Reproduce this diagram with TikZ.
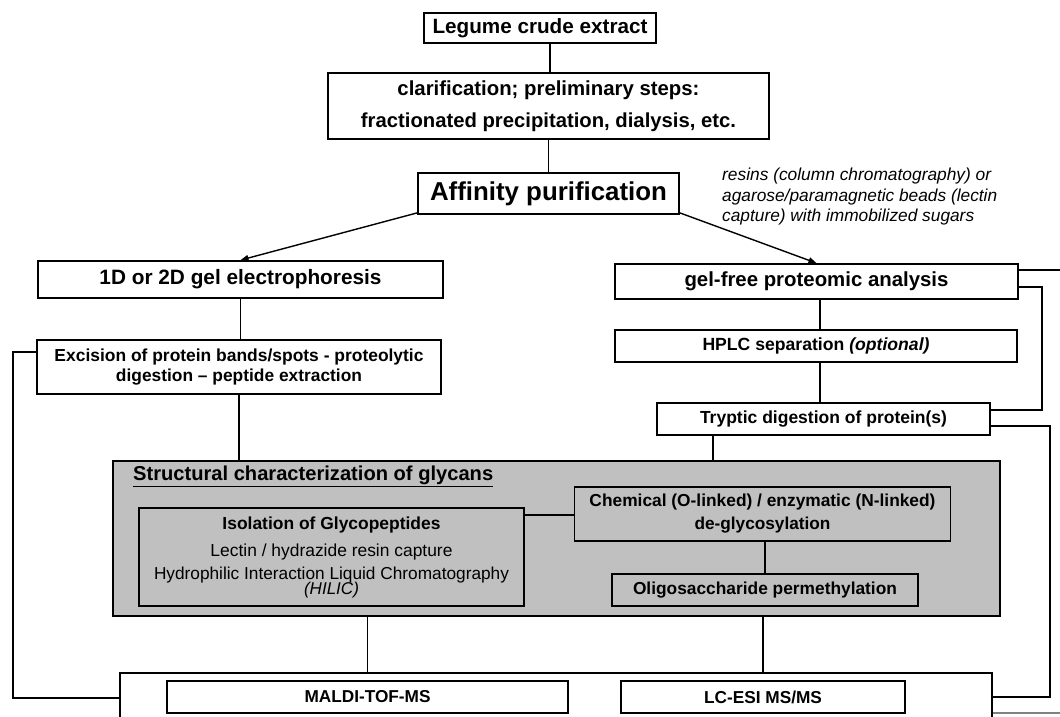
\documentclass[tikz,border=0pt]{standalone}
\usepackage{fontspec}
\setmainfont{Liberation Sans}
\usepackage{graphicx}
\usetikzlibrary{arrows.meta}
\definecolor{panel}{RGB}{192,192,192}
\newcommand\fw[2]{\resizebox{#1pt}{!}{#2}}
\newcommand\tightlines{\lineskiplimit=-\maxdimen\relax}
\begin{document}
\begin{tikzpicture}[x=1pt,y=-1pt,
  box/.style={draw=black, line width=1.8pt, fill=white, inner sep=0pt, align=center},
  conn/.style={line width=1.4pt, draw=black},
  arr/.style={conn, -{Triangle[length=8pt,width=6pt]}},
  bt/.style={font=\bfseries\fontsize{17}{20}\selectfont}]
\useasboundingbox[fill=white] (0,0) rectangle (1060,716);

\node[box, minimum width=232pt, minimum height=30pt, font=\bfseries\fontsize{20}{24}\selectfont] (leg) at (540,28) {\fw{215}{Legume crude extract}};
\node[box, minimum width=441pt, minimum height=66pt, font=\bfseries\fontsize{18}{32}\selectfont] (clar) at (548.5,106) {\fw{302}{clarification; preliminary steps:}\\\fw{375}{fractionated precipitation, dialysis, etc.}};
\node[box, minimum width=261pt, minimum height=41pt, font=\bfseries\fontsize{26}{30}\selectfont] (aff) at (548.5,193.5) {\fw{237}{Affinity purification}};
\node[anchor=west, align=left, inner sep=0pt, font=\itshape\fontsize{17}{20.5}\selectfont] (note) at (722,197) {\fw{269}{resins (column chromatography) or}\\\fw{275}{agarose/paramagnetic beads (lectin}\\\fw{252}{capture) with immobilized sugars}};

\node[box, bt, minimum width=405pt, minimum height=37pt] (g1) at (240.5,279.5) {\fw{282}{1D or 2D gel electrophoresis}};
\node[box, bt, minimum width=403pt, minimum height=35pt] (g2) at (816.5,281.5) {\fw{264}{gel-free proteomic analysis}};
\node[box, bt, minimum width=404pt, minimum height=54pt] (exc) at (239,367) {\fw{369}{Excision of protein bands/spots - proteolytic}\\\fw{246}{digestion – peptide extraction}};
\node[box, bt, minimum width=402pt, minimum height=32pt] (hplc) at (816,346) {\fw{227}{HPLC separation \textit{(optional)}}};
\node[box, bt, minimum width=333pt, minimum height=32pt] (tryp) at (823.5,419) {\fw{247}{Tryptic digestion of protein(s)}};

\node[box, fill=panel, minimum width=887pt, minimum height=155pt] (gly) at (556.5,538.5) {};
\node[anchor=west, inner sep=0pt, font=\bfseries\fontsize{18}{22}\selectfont] (title) at (133,476) {\fw{360}{\underline{Structural characterization of glycans}}};
\node[box, fill=panel, minimum width=385pt, minimum height=98pt, font=\fontsize{17}{0}\selectfont\tightlines] (iso) at (331.5,557) {\fw{218}{\bfseries Isolation of Glycopeptides}\\[27pt]\fw{242}{Lectin / hydrazide resin capture}\\[23pt]\fw{355}{Hydrophilic Interaction Liquid Chromatography}\\[15pt]\fw{55}{\itshape (HILIC)}};
\node[box, fill=panel, minimum width=376pt, minimum height=54pt, font=\bfseries\fontsize{17}{23}\selectfont] (chem) at (762.5,514) {\fw{346}{Chemical (O-linked) / enzymatic (N-linked)}\\\fw{136}{de-glycosylation}};
\node[box, bt, fill=panel, minimum width=306pt, minimum height=32pt] (oligo) at (765,590) {\fw{264}{Oligosaccharide permethylation}};

\node[box, minimum width=872pt, minimum height=90pt] (ms) at (556,718) {};
\node[box, bt, minimum width=401pt, minimum height=32pt] (maldi) at (367.5,697) {\fw{126}{MALDI-TOF-MS}};
\node[box, bt, minimum width=284pt, minimum height=32pt] (lcesi) at (763,697) {\fw{118}{LC-ESI MS/MS}};

% connectors
\draw[conn] ([xshift=10pt]leg.south) -- ([xshift=10pt]leg.south |- clar.north);
\draw[conn] (clar.south) -- (aff.north);
\draw[arr] ([yshift=2pt]aff.south west) -- (g1.north);
\draw[arr] ([yshift=2pt]aff.south east) -- (g2.north);
\draw[conn] (g1.south) -- (g1.south |- exc.north);
\draw[conn] (exc.south) -- (exc.south |- gly.north);
\draw[conn] ([xshift=3.5pt]g2.south) -- ([xshift=3.5pt]g2.south |- hplc.north);
\draw[conn] ([xshift=4pt]hplc.south) -- ([xshift=4pt]hplc.south |- tryp.north);
\draw[conn] ([xshift=-110.5pt]tryp.south) -- ([xshift=-110.5pt]tryp.south |- gly.north);
\draw[conn] ([yshift=-8pt]iso.north east) -- ([yshift=-8pt]iso.north east -| chem.west);
\draw[conn] (oligo.north |- chem.south) -- (oligo.north);
\draw[conn] (gly.south -| maldi.north) -- (ms.north -| maldi.north);
\draw[conn] (gly.south -| lcesi.north) -- (ms.north -| lcesi.north);

\coordinate (lb) at (13,698);
\draw[conn] ([yshift=15pt]exc.west) -| (lb) -- (lb -| ms.west);
\coordinate (ra) at (1060,270);
\draw[conn] (g2.east |- ra) -- (ra);
\coordinate (rb) at (1042,287);
\coordinate (rc) at (1042,410);
\draw[conn] (g2.east |- rb) -- (rb) -- (rc) -- (tryp.east |- rc);
\coordinate (rd) at (1050,426);
\coordinate (re) at (1050,697);
\draw[conn] (tryp.east |- rd) -- (rd) -- (re) -- (ms.east |- re);
\coordinate (rf) at (1060,713);
\draw[conn, draw=gray] (ms.east |- rf) -- (rf);
\end{tikzpicture}
\end{document}
